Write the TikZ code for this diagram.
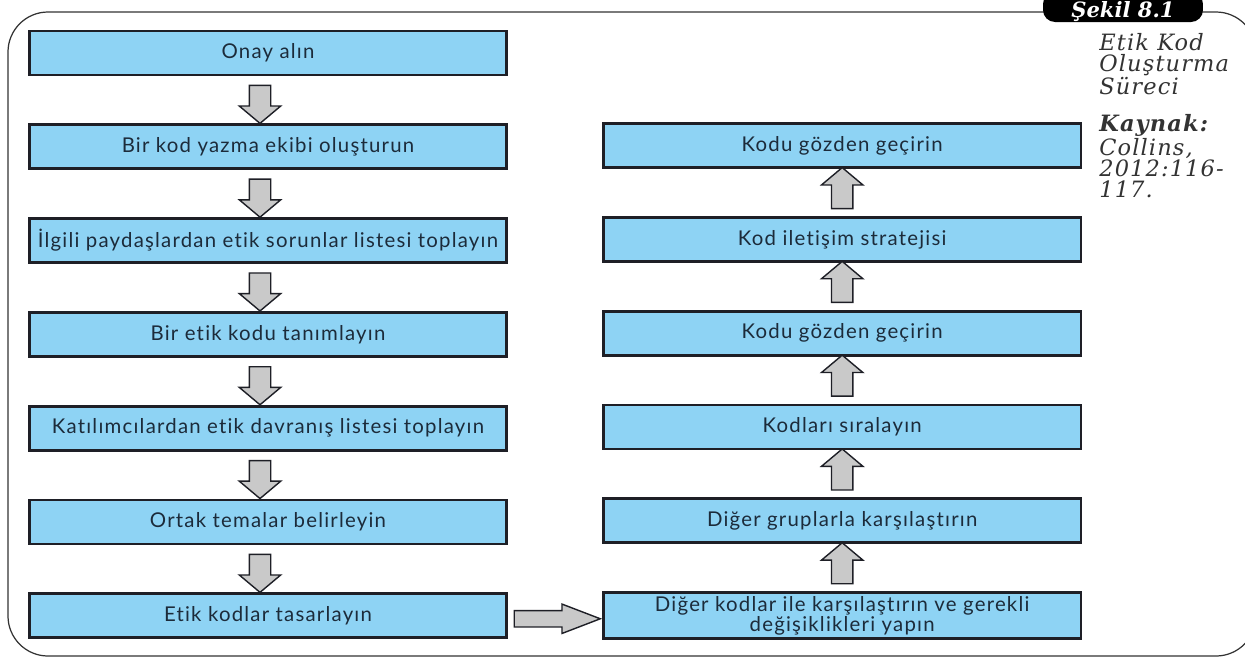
\documentclass[tikz,border=0pt]{standalone}
\usepackage{fontspec}
\usepackage{tikz}
\usetikzlibrary{positioning,shapes.arrows}
\newfontfamily\boxfont[LetterSpace=6,Ligatures=NoCommon]{Lato}
\newfontfamily\notefont[LetterSpace=5,Ligatures=NoCommon]{DejaVu Serif}
\newfontfamily\tagfont{DejaVu Serif}
\definecolor{boxblue}{HTML}{8ED3F4}
\definecolor{boxedge}{HTML}{1E1F26}
\definecolor{arrgray}{HTML}{C9C9C9}
\definecolor{inkblue}{HTML}{1C2B3A}
\definecolor{noteink}{HTML}{333333}

\begin{document}
\begin{tikzpicture}[
    x=0.02cm, y=-0.02cm,
    node distance=0.94cm,
    every node/.style={font=\boxfont\fontsize{11.6}{10}\selectfont},
    box/.style={draw=boxedge, line width=1.6pt, fill=boxblue, text=inkblue, align=center, minimum width=9.55cm, minimum height=0.88cm, inner sep=2pt},
    downarr/.style={single arrow, draw=boxedge, line width=0.8pt, fill=arrgray, inner sep=0.2cm, single arrow head extend=0.2cm, single arrow tip angle=100, minimum height=0.76cm, shape border rotate=270},
    uparr/.style={downarr, shape border rotate=90, minimum height=0.82cm},
    rightarr/.style={downarr, shape border rotate=0, inner sep=0.15cm, single arrow head extend=0.13cm, single arrow tip angle=42, minimum height=1.72cm},
    frame/.style={draw=noteink, line width=0.7pt, rounded corners=0.8cm},
    tagpill/.style={fill=black, rounded corners=0.24cm, minimum width=3.2cm, minimum height=0.6cm, text=white, text height=12.4pt, text depth=0pt, inner sep=0pt, font=\tagfont\bfseries\itshape\fontsize{12}{12}\selectfont},
    sidenote/.style={anchor=north west, align=left, inner sep=0pt, text=noteink, font=\notefont\itshape\fontsize{12.8}{11.9}\selectfont}
]
\useasboundingbox (0,0) rectangle (1245,657);
\draw[frame] (8,12) rectangle (1256,656);
\node[tagpill] (tag) at (1123,7) {Şekil 8.1};
\node[sidenote] (cap) at (1099,33) {Etik Kod\\Oluşturma\\Süreci};
\node[sidenote] (src) at (1099,114) {\textbf{Kaynak:}\\Collins,\\2012:116-\\117.};
% left column, top to bottom
\node[box] (b1) at (268,53) {Onay alın};
\node[box, below=of b1] (b2) {Bir kod yazma ekibi oluşturun};
\node[box, below=of b2] (b3) {İlgili paydaşlardan etik sorunlar listesi toplayın};
\node[box, below=of b3] (b4) {Bir etik kodu tanımlayın};
\node[box, below=of b4] (b5) {Katılımcılardan etik davranış listesi toplayın};
\node[box, below=of b5] (b6) {Ortak temalar belirleyin};
\node[box, below=of b6] (b7) {Etik kodlar tasarlayın};
% right column, bottom to top
\node[box, right=1.88cm of b7] (r6) {Diğer kodlar ile karşılaştırın ve gerekli\\değişiklikleri yapın};
\node[box, above=of r6] (r5) {Diğer gruplarla karşılaştırın};
\node[box, above=of r5] (r4) {Kodları sıralayın};
\node[box, above=of r4] (r3) {Kodu gözden geçirin};
\node[box, above=of r3] (r2) {Kod iletişim stratejisi};
\node[box, above=of r2] (r1) {Kodu gözden geçirin};
\path (b1) -- node[downarr, xshift=-0.16cm] (d1) {} (b2);
\path (b2) -- node[downarr, xshift=-0.16cm] (d2) {} (b3);
\path (b3) -- node[downarr, xshift=-0.16cm] (d3) {} (b4);
\path (b4) -- node[downarr, xshift=-0.16cm] (d4) {} (b5);
\path (b5) -- node[downarr, xshift=-0.16cm] (d5) {} (b6);
\path (b6) -- node[downarr, xshift=-0.16cm] (d6) {} (b7);
\path (b7) -- node[rightarr, xshift=-0.17cm, yshift=-0.06cm] (h1) {} (r6);
\path (r6) -- node[uparr] (u5) {} (r5);
\path (r5) -- node[uparr] (u4) {} (r4);
\path (r4) -- node[uparr] (u3) {} (r3);
\path (r3) -- node[uparr] (u2) {} (r2);
\path (r2) -- node[uparr] (u1) {} (r1);
\end{tikzpicture}
\end{document}
